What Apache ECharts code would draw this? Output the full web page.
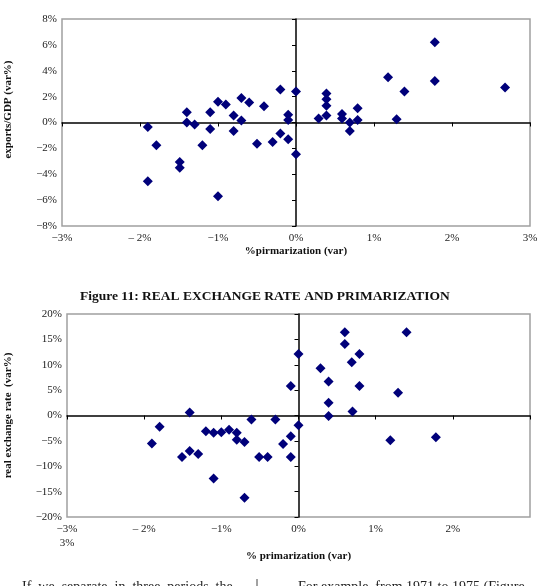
<!DOCTYPE html>
<html>
<head>
<meta charset="utf-8">
<script src="https://cdn.jsdelivr.net/npm/echarts@6/dist/echarts.min.js"></script>
<style>
  html, body { margin: 0; padding: 0; background: #fff; }
  #chart { width: 538px; height: 586px; }
</style>
</head>
<body>
<div id="chart"></div>
<script>
// top panel: exports/GDP (var%) against primarization (var%)
const exportsPoints = [
  [-1.90, -0.35], [-1.79, -1.75], [-1.90, -4.55], [-1.49, -3.05], [-1.49, -3.5],
  [-1.40, 0.8], [-1.40, 0.0], [-1.30, -0.15], [-1.20, -1.75], [-1.10, 0.8],
  [-1.10, -0.5], [-1.00, 1.6], [-1.00, -5.7], [-0.90, 1.4], [-0.80, 0.55],
  [-0.80, -0.65], [-0.70, 1.9], [-0.70, 0.15], [-0.60, 1.55], [-0.50, -1.65],
  [-0.41, 1.25], [-0.30, -1.5], [-0.20, 2.55], [-0.20, -0.85], [-0.10, 0.6],
  [-0.10, 0.2], [-0.10, -1.3], [0.0, 2.4], [0.0, -2.45], [0.29, 0.3],
  [0.39, 2.25], [0.39, 1.8], [0.39, 1.3], [0.39, 0.55], [0.59, 0.65],
  [0.59, 0.3], [0.69, 0.0], [0.69, -0.65], [0.79, 1.1], [0.79, 0.2],
  [1.18, 3.5], [1.29, 0.25], [1.39, 2.4], [1.78, 6.2], [1.78, 3.2],
  [2.68, 2.7]
];

// bottom panel: real exchange rate (var%) against primarization (var%)
const rerPoints = [
  [-1.41, 0.6], [-1.80, -2.2], [-1.90, -5.5], [-1.51, -8.2], [-1.41, -7.0],
  [-1.30, -7.6], [-1.20, -3.1], [-1.10, -3.4], [-1.00, -3.3], [-1.10, -12.4],
  [-0.90, -2.8], [-0.80, -3.4], [-0.80, -4.8], [-0.70, -5.2], [-0.70, -16.2],
  [-0.61, -0.8], [-0.51, -8.2], [-0.40, -8.2], [-0.30, -0.8], [-0.20, -5.6],
  [-0.10, -4.1], [-0.10, -8.2], [0.0, -1.9], [-0.10, 5.8], [0.0, 12.1],
  [0.285, 9.3], [0.39, 6.7], [0.39, 2.5], [0.39, -0.1], [0.60, 16.4],
  [0.60, 14.1], [0.69, 10.5], [0.79, 12.1], [0.79, 5.8], [0.70, 0.8],
  [1.29, 4.5], [1.40, 16.4], [1.19, -4.9], [1.78, -4.3]
];

const topXLabels = ["\u22123%", "\u2013 2%", "\u22121%", "0%", "1%", "2%", "3%"];
const topYLabels = ["\u22128%", "\u22126%", "\u22124%", "\u22122%", "0%", "2%", "4%", "6%", "8%"];
const bottomXLabels = ["\u22123%\n3%", "\u2013 2%", "\u22121%", "0%", "1%", "2%", ""];
const bottomYLabels = ["\u221220%", "\u221215%", "\u221210%", "\u22125%", "0%", "5%", "10%", "15%", "20%"];

const SERIF = "'Liberation Serif', 'Times New Roman', serif";
const MARK = "#00007a";
const nameStyle = { color: "#111", fontFamily: SERIF, fontSize: 11, fontWeight: "bold" };

const chart = echarts.init(document.getElementById("chart"));

const pick = (labels, min, step) => (v) => labels[Math.round((v - min) / step)] ?? "";

// axis that only carries the labels at the plot edge
function labelAxis(gridIndex, min, max, interval, labels, extra) {
  return Object.assign({
    gridIndex,
    type: "value",
    min,
    max,
    interval,
    axisLine: { show: false, onZero: false },
    axisTick: { show: false },
    splitLine: { show: false },
    axisLabel: {
      color: "#222",
      fontFamily: SERIF,
      fontSize: 11,
      margin: 5,
      lineHeight: 14,
      formatter: pick(labels, min, interval)
    },
    nameTextStyle: nameStyle
  }, extra);
}

// axis drawn through zero, with ticks, no labels
function zeroAxis(gridIndex, min, max, interval, position) {
  return {
    gridIndex,
    type: "value",
    min,
    max,
    interval,
    position,
    axisLine: { onZero: true, lineStyle: { color: "#000", width: 1.5 } },
    axisTick: { length: 4, lineStyle: { color: "#000", width: 1 } },
    axisLabel: { show: false },
    splitLine: { show: false }
  };
}

chart.setOption({
  backgroundColor: "#fff",
  animation: false,
  grid: [
    { left: 62, top: 19, width: 468, height: 207, show: true, borderColor: "#a0a0a0", borderWidth: 1.5, outerBoundsMode: "none" },
    { left: 67, top: 314, width: 463, height: 203, show: true, borderColor: "#a0a0a0", borderWidth: 1.5, outerBoundsMode: "none" }
  ],
  xAxis: [
    labelAxis(0, -3, 3, 1, topXLabels, {
      position: "bottom",
      name: "%pirmarization (var)",
      nameLocation: "middle",
      nameGap: 20
    }),
    zeroAxis(0, -3, 3, 1, "bottom"),
    labelAxis(1, -3, 3, 1, bottomXLabels, {
      position: "bottom",
      name: "% primarization (var)",
      nameLocation: "middle",
      nameGap: 21
    }),
    zeroAxis(1, -3, 3, 1, "bottom")
  ],
  yAxis: [
    labelAxis(0, -8, 8, 2, topYLabels, {
      position: "left",
      name: "exports/GDP (var%)",
      nameLocation: "middle",
      nameGap: 48,
      nameTextStyle: Object.assign({}, nameStyle, { padding: [0, 0, 0, 26] })
    }),
    zeroAxis(0, -8, 8, 2, "left"),
    labelAxis(1, -20, 20, 5, bottomYLabels, {
      position: "left",
      name: "real exchange rate  (var%)",
      nameLocation: "middle",
      nameGap: 53
    }),
    zeroAxis(1, -20, 20, 5, "left")
  ],
  graphic: [
    {
      type: "text",
      left: 80,
      top: 290,
      style: {
        text: "Figure 11: REAL EXCHANGE RATE AND PRIMARIZATION",
        fill: "#111",
        font: "bold 13.5px " + SERIF
      }
    },
    {
      type: "text",
      left: 22,
      top: 580,
      style: { text: "If  we  separate  in  three  periods  the", fill: "#222", font: "14px " + SERIF }
    },
    {
      type: "text",
      left: 298,
      top: 580,
      style: { text: "For example, from 1971 to 1975 (Figure", fill: "#222", font: "14px " + SERIF }
    },
    {
      type: "line",
      shape: { x1: 257, y1: 579, x2: 257, y2: 586 },
      style: { stroke: "#444", lineWidth: 1 }
    }
  ],
  series: [
    {
      type: "scatter",
      xAxisIndex: 0,
      yAxisIndex: 0,
      symbol: "diamond",
      symbolSize: 10,
      itemStyle: { color: MARK, opacity: 1 },
      data: exportsPoints
    },
    {
      type: "scatter",
      xAxisIndex: 2,
      yAxisIndex: 2,
      symbol: "diamond",
      symbolSize: 10,
      itemStyle: { color: MARK, opacity: 1 },
      data: rerPoints
    }
  ]
});
</script>
</body>
</html>
